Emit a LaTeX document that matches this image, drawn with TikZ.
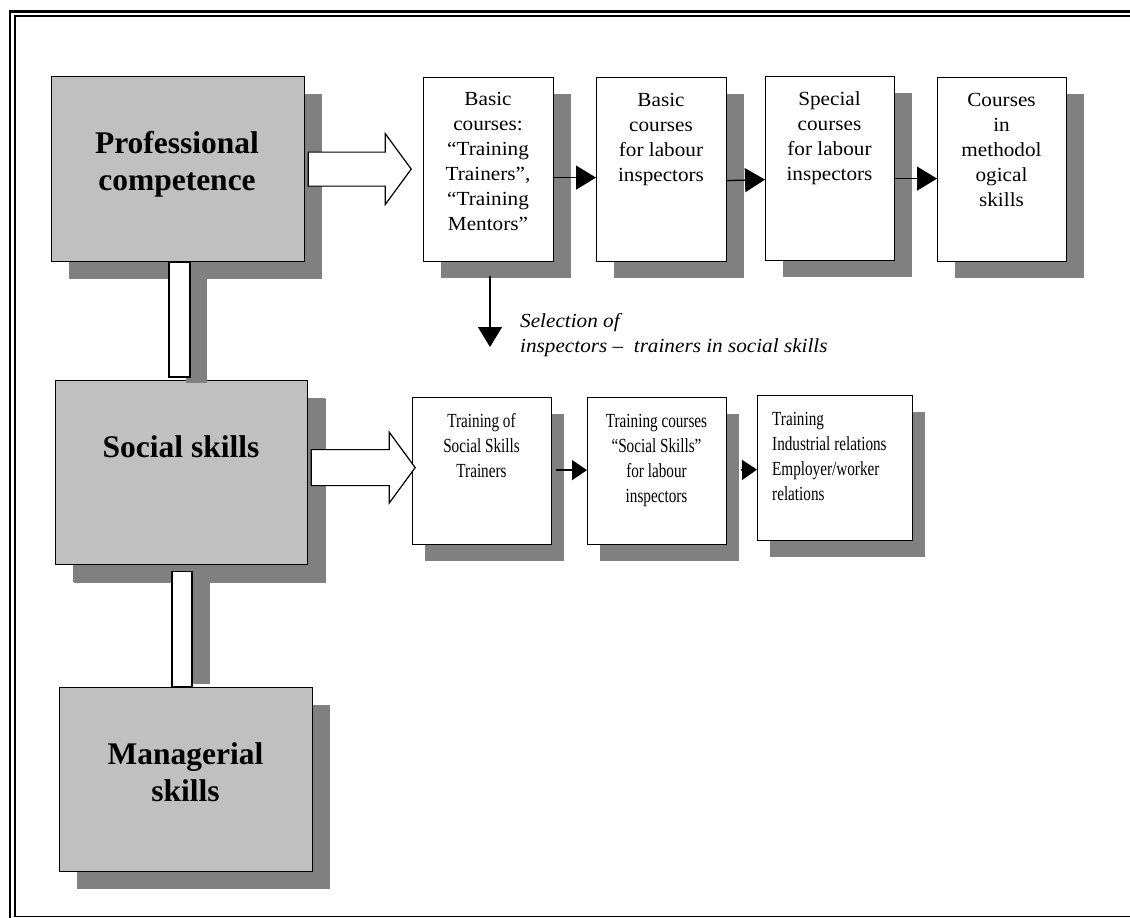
\documentclass[tikz,border=0pt]{standalone}
\usepackage{fontspec}
\setmainfont{Liberation Serif}
\newfontfamily\widefont[FakeStretch=1.06]{Liberation Serif}
\newfontfamily\condfont[FakeStretch=0.76]{Liberation Serif}
\usetikzlibrary{shadows,calc,arrows.meta}
\definecolor{shgray}{HTML}{808080}
\definecolor{boxgray}{HTML}{C0C0C0}
\newcommand\blockarr[6]{%
  \path[#1] (#2) -- ++(0,-#5) -- ++(#3,0) -- ++(0,{#5-#6}) -- ++(#4,#6)
    -- ++(-#4,#6) -- ++(0,{#5-#6}) -- ++(-#3,0) -- cycle;}
\begin{document}
\begin{tikzpicture}[x=1pt,y=-1pt,
  bigbox/.style={draw=black, line width=1.2pt, fill=boxgray, anchor=north west,
    inner sep=0pt, minimum width=253pt, minimum height=185pt,
    drop shadow={shadow xshift=17pt, shadow yshift=-17pt, fill=shgray, opacity=1}},
  topbox/.style={draw=black, line width=1.2pt, fill=white, anchor=north west,
    inner sep=0pt, minimum width=130pt, minimum height=184pt,
    drop shadow={shadow xshift=17pt, shadow yshift=-16pt, fill=shgray, opacity=1}},
  lowbox/.style={draw=black, line width=1.2pt, fill=white, anchor=north west,
    inner sep=0pt, minimum height=147pt,
    drop shadow={shadow xshift=12pt, shadow yshift=-16pt, fill=shgray, opacity=1}},
  headtxt/.style={anchor=north, align=center, inner sep=0pt,
    font=\bfseries\fontsize{31.5}{37}\selectfont},
  toptxt/.style={anchor=north, align=center, inner sep=0pt,
    font=\widefont\fontsize{20}{25}\selectfont},
  lowtxt/.style={anchor=north, align=center, inner sep=0pt,
    font=\condfont\fontsize{20}{25}\selectfont},
  seltxt/.style={anchor=north west, align=left, inner sep=0pt,
    font=\widefont\itshape\fontsize{20}{25}\selectfont},
  barbox/.style={draw=black, line width=1.2pt, fill=white},
  harrow/.style={line width=1.3pt, -{Triangle[length=20pt,width=24pt]}},
  larrow/.style={line width=1.3pt, -{Triangle[length=15pt,width=20pt]}},
  blockfill/.style={draw=black, line width=1.2pt, fill=white, line join=miter},
]
\useasboundingbox (0,0) rectangle (1130,918);

% frame
\draw[line width=2.3pt] (10,918) -- (10,11.5) -- (1130,11.5);
\draw[line width=1.5pt] (1130,16) -- (15,16) -- (15,916.5) -- (1130,916.5);

% boxes
\node[bigbox] (P) at (51,76) {};
\node[bigbox, minimum width=252pt, minimum height=184pt,
  drop shadow={shadow xshift=18pt, shadow yshift=-18pt, fill=shgray, opacity=1}] (S) at (55,380) {};
\node[bigbox, minimum width=253pt, minimum height=184pt] (M) at (59,687) {};

% coordinates of block arrows
\coordinate (pa) at ($(P.east)+(3,0)$);
\coordinate (sa) at ($(S.east)+(3,-5)$);

% block arrow shadows
\blockarr{fill=shgray, shift={(15,16)}}{pa}{77}{26}{17}{35.5}
\blockarr{fill=shgray, shift={(15,16)}}{sa}{78}{26}{18}{35.5}

\node[topbox] (b1) at (423,77) {};
\node[topbox] (b2) at (596,77) {};
\node[topbox, minimum width=129pt] (b3) at (765,76) {};
\node[topbox, minimum width=129pt] (b4) at (937,77) {};

\node[lowbox, minimum width=139pt] (b5) at (412,397) {};
\node[lowbox, minimum width=139pt] (b6) at (587,397) {};
\node[lowbox, minimum width=155pt, minimum height=145pt] (b7) at (757,395) {};

% vertical bars between the main boxes
\fill[shgray] ($(P.south west)+(135,17)$) rectangle ($(S.north west)+(152,3)$);
\draw[barbox] ($(P.south west)+(118,0)$) rectangle ($(S.north west)+(135,-3)$);
\fill[shgray] ($(S.south west)+(134,18)$) rectangle ($(M.north west)+(151,-3)$);
\draw[barbox] ($(S.south west)+(117,6)$) rectangle ($(M.north west)+(133,0)$);

% block arrows
\blockarr{blockfill}{pa}{77}{26}{17}{35.5}
\blockarr{blockfill}{sa}{78}{26}{18}{35.5}

% small arrows
\draw[harrow] ([yshift=-8pt]b1.east) -- ([yshift=-8pt]b2.west);
\draw[harrow] ([yshift=-11pt]b2.east) -- ([yshift=-11pt]b3.west);
\draw[harrow] ([yshift=-10pt]b3.east) -- ([yshift=-9pt]b4.west);
\draw[larrow, shorten <=4pt] ([yshift=1pt]b5.east) -- ([yshift=1pt]b6.west);
\draw[larrow, shorten <=14pt] ([yshift=1pt]b6.east) -- ([yshift=-1.5pt]b7.west);

\coordinate (selend) at (490,347);
\draw[harrow, shorten <=14pt] (b1.south -| selend) -- (selend);

% texts
\node[headtxt] (Pt) at (177,127) {\strut Professional\\competence};
\node[headtxt] (St) at (181,431) {\strut Social skills};
\node[headtxt] (Mt) at (185.5,738) {\strut Managerial\\skills};

\node[toptxt] (b1t) at (488,87.5) {\strut Basic\\courses:\\“Training\\Trainers”,\\“Training\\Mentors”};
\node[toptxt] (b2t) at (661,88.5) {\strut Basic\\courses\\for labour\\inspectors};
\node[toptxt] (b3t) at (829.5,87.5) {\strut Special\\courses\\for labour\\inspectors};
\node[toptxt] (b4t) at (1001.5,88.5) {\strut Courses\\in\\methodol\\ogical\\skills};

\node[seltxt] (sel) at (520,309.5) {\strut Selection of\\inspectors –\ \ trainers in social skills};

\node[lowtxt] (b5t) at (481.5,409.5) {\strut Training of\\Social Skills\\Trainers};
\node[lowtxt] (b6t) at (656.5,409.5) {\strut Training courses\\“Social Skills”\\for labour\\inspectors};
\node[lowtxt, anchor=north west, align=left] (b7t) at (772,407.5) {\strut Training\\Industrial relations\\Employer/worker\\relations};
\end{tikzpicture}
\end{document}
